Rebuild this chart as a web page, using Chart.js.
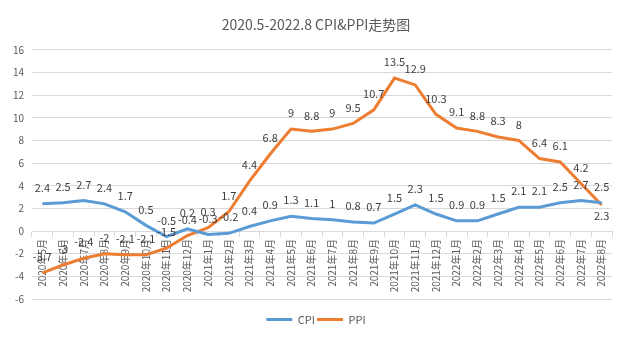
<!DOCTYPE html>
<html>
<head>
<meta charset="utf-8">
<script src="https://cdn.jsdelivr.net/npm/chart.js@4.4.1/dist/chart.umd.min.js"></script>
<style>
html,body{margin:0;padding:0;background:#fff;}
#wrap{width:632px;height:352px;}
</style>
</head>
<body>
<div id="wrap"><canvas id="c" width="632" height="352"></canvas></div>
<script>
const months = ["2020年5月","2020年6月","2020年7月","2020年8月","2020年9月","2020年10月","2020年11月","2020年12月",
  "2021年1月","2021年2月","2021年3月","2021年4月","2021年5月","2021年6月","2021年7月","2021年8月","2021年9月","2021年10月","2021年11月","2021年12月",
  "2022年1月","2022年2月","2022年3月","2022年4月","2022年5月","2022年6月","2022年7月","2022年8月"];
const cpi = [2.4,2.5,2.7,2.4,1.7,0.5,-0.5,0.2,-0.3,-0.2,0.4,0.9,1.3,1.1,1,0.8,0.7,1.5,2.3,1.5,0.9,0.9,1.5,2.1,2.1,2.5,2.7,2.5];
const ppi = [-3.7,-3,-2.4,-2,-2.1,-2.1,-1.5,-0.4,0.3,1.7,4.4,6.8,9,8.8,9,9.5,10.7,13.5,12.9,10.3,9.1,8.8,8.3,8,6.4,6.1,4.2,2.3];
const yTicks = [-6,-4,-2,0,2,4,6,8,10,12,14,16];
const title = "2020.5-2022.8 CPI&PPI走势图";

const FONT = '"Noto Sans CJK SC", "Noto Sans", sans-serif';
const labelBelow = {1: [27]};

const dataLabels = {
  id: 'dataLabels',
  afterDatasetsDraw(chart) {
    const ctx = chart.ctx;
    ctx.save();
    ctx.font = '11px ' + FONT;
    ctx.fillStyle = '#404040';
    ctx.textAlign = 'center';
    ctx.textBaseline = 'middle';
    chart.data.datasets.forEach((ds, di) => {
      const meta = chart.getDatasetMeta(di);
      const below = labelBelow[di] || [];
      meta.data.forEach((pt, i) => {
        const v = ds.data[i];
        const dy = below.includes(i) ? 11 : -16;
        ctx.fillText(String(v), pt.x, pt.y + dy);
      });
    });
    ctx.restore();
  }
};

new Chart(document.getElementById('c'), {
  type: 'line',
  data: {
    labels: months,
    datasets: [
      {label: 'CPI', data: cpi, borderColor: '#5B9BD5', backgroundColor: '#5B9BD5', borderWidth: 3, pointRadius: 0, tension: 0},
      {label: 'PPI', data: ppi, borderColor: '#ED7D31', backgroundColor: '#ED7D31', borderWidth: 3, pointRadius: 0, tension: 0}
    ]
  },
  options: {
    responsive: false,
    devicePixelRatio: 1,
    animation: false,
    layout: {padding: {left: 0, right: 0, top: 0, bottom: 17}},
    plugins: {
      title: {display: true, text: title, color: '#595959', font: {family: FONT, size: 14, weight: 'normal'}, padding: {top: 16, bottom: 17}},
      legend: {
        position: 'bottom',
        labels: {usePointStyle: true, pointStyle: 'line', pointStyleWidth: 26, color: '#595959', font: {family: FONT, size: 11}, padding: 2}
      },
      tooltip: {enabled: false}
    },
    scales: {
      x: {
        type: 'category',
        position: {y: 0},
        offset: true,
        grid: {display: true, drawOnChartArea: false, drawTicks: true, tickLength: 5, color: '#d9d9d9', offset: true},
        border: {display: true, color: '#d9d9d9'},
        ticks: {autoSkip: false, minRotation: 90, maxRotation: 90, color: '#595959', font: {family: FONT, size: 10}, padding: 3}
      },
      xSpace: {
        type: 'category',
        position: 'bottom',
        grid: {display: false},
        border: {display: false},
        ticks: {display: false},
        afterFit(scale) { scale.height = 13; }
      },
      y: {
        min: -6, max: 16,
        afterBuildTicks(scale) { scale.ticks = yTicks.map(v => ({value: v})); },
        afterFit(scale) { scale.width = 32; },
        grid: {color: '#d9d9d9', drawTicks: false},
        border: {display: false},
        ticks: {color: '#595959', font: {family: FONT, size: 10}, padding: 8}
      },
      ySpace: {
        type: 'linear',
        position: 'right',
        grid: {display: false},
        border: {display: false},
        ticks: {display: false},
        afterFit(scale) { scale.width = 20; }
      }
    }
  },
  plugins: [dataLabels]
});
</script>
</body>
</html>
